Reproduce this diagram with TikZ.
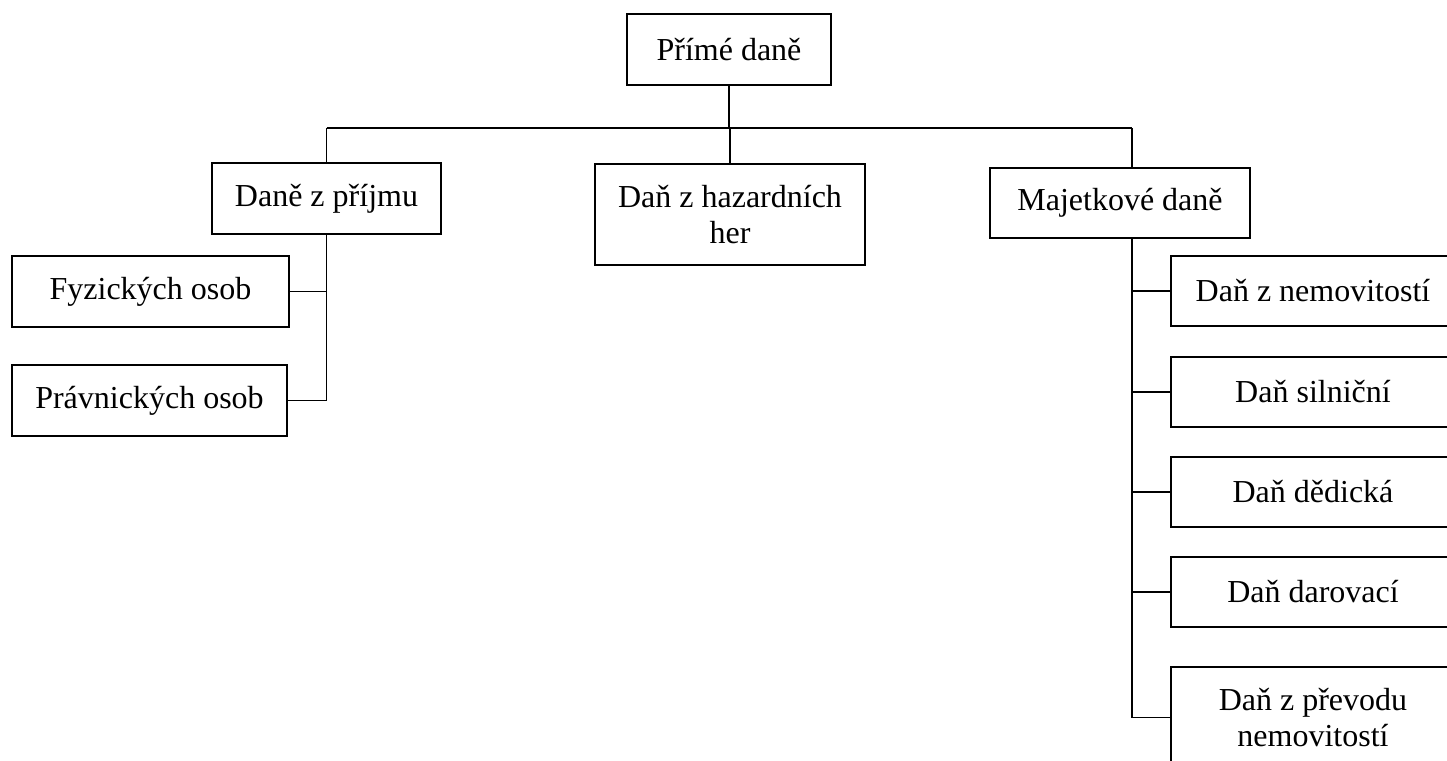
\documentclass[tikz,border=0pt]{standalone}
\usepackage{fontspec}
\setmainfont{Liberation Serif}
\usetikzlibrary{calc,positioning}

\begin{document}
\begin{tikzpicture}[
  x=0.375pt, y=-0.375pt,
  box/.style={rectangle, draw, line width=0.8pt, inner sep=0pt, align=center,
    minimum height=26.4pt, font=\fontsize{12}{13.8}\selectfont},
  tallbox/.style={box, minimum height=37.9pt},
  link/.style={line width=0.4pt}
]
  \useasboundingbox (0,0) rectangle (1447,760);
  \clip (0,0) rectangle (1447,760);

  % main level
  \node[box, minimum width=76.5pt] (prime) at (729,49.5) {Přímé daně};
  \node[box, minimum width=85.9pt] (income) at (326.5,198.5) {Daně z příjmu};
  \node[tallbox, minimum width=101.3pt] (gambling) at (730,214.5) {Daň z hazardních\\her};
  \node[box, minimum width=97.5pt] (property) at (1120,203) {Majetkové daně};

  % income taxes
  \node[box, minimum width=103.9pt] (natural) at (150.5,291.5) {Fyzických osob};
  \node[box, minimum width=103.1pt] (legal) at (149.5,400.5) {Právnických osob};

  % property taxes
  \node[box, minimum width=106.5pt] (realestate) at (1313,291) {Daň z nemovitostí};
  \node[box, minimum width=106.5pt] (road) at (1313,392) {Daň silniční};
  \node[box, minimum width=106.5pt] (inherit) at (1313,492) {Daň dědická};
  \node[box, minimum width=106.5pt] (gift) at (1313,592) {Daň darovací};
  \node[tallbox, minimum width=106.5pt] (transfer) at (1313,717.5) {Daň z převodu\\nemovitostí};

  \coordinate (busL) at (326.5,128);
  \coordinate (busR) at (1132,128);

  \draw[link] (busL) -- (busR);
  \draw[link] (prime.south) -- (prime.south |- busL);
  \draw[link] (busL) -- (income.north);
  \draw[link] (gambling.north |- busL) -- (gambling.north);
  \draw[link] (busR) -- (busR |- property.north);

  \draw[link] (income.south) |- (natural.east);
  \draw[link] (income.south) |- (legal.east);

  \draw[link] (busR |- property.south) |- (transfer.west);
  \foreach \n in {realestate, road, inherit, gift}
    \draw[link] (busR |- \n.west) -- (\n.west);
\end{tikzpicture}
\end{document}
